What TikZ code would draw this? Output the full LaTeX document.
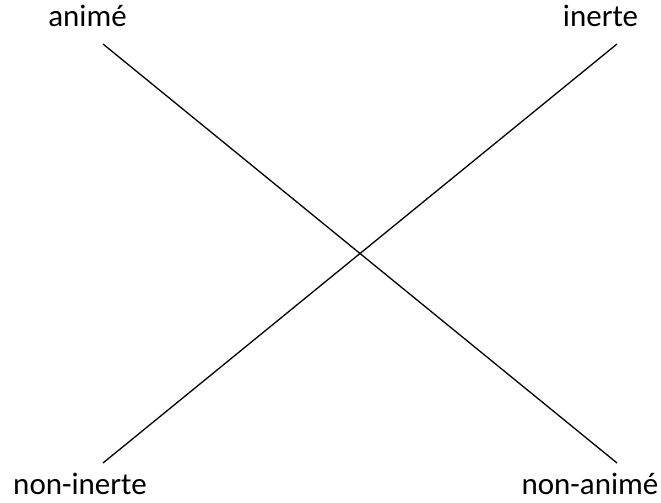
\documentclass[tikz,border=0pt]{standalone}
\usepackage{fontspec}
\setmainfont{Carlito}
\usetikzlibrary{positioning}

\begin{document}
\begin{tikzpicture}[x=1pt, y=1pt,
      lbl/.style={font=\fontsize{31}{36}\selectfont, inner sep=0pt, anchor=base},
      axe/.style={line width=1.3pt}]
    \useasboundingbox (0,0) rectangle (661,503);
    % labels
    \node[lbl] (anime)    at (87.5,476) {animé};
    \node[lbl] (inerte)   at (600.5,476) {inerte};
    \node[lbl] (noninert) at (80,8)     {non-inerte};
    \node[lbl] (nonanime) at (590,8)    {non-animé};
    % line ends
    \coordinate (a1) at (103,459);
    \coordinate (a2) at (617,40);
    \coordinate (i1) at (617,459);
    \coordinate (i2) at (103,40);
    \draw[axe] (a1) -- (a2);
    \draw[axe] (i1) -- (i2);
  \end{tikzpicture}
\end{document}
